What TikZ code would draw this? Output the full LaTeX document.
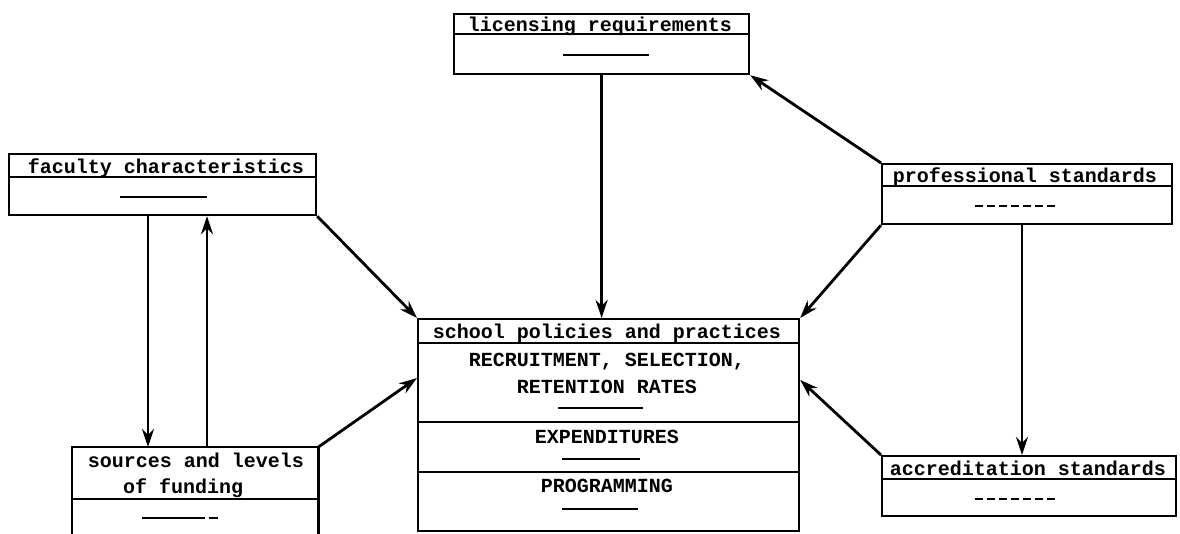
\documentclass[tikz,border=0pt]{standalone}
\usepackage{fontspec}
\setmonofont{Liberation Mono}
\usetikzlibrary{arrows.meta,calc}
\begin{document}
\begin{tikzpicture}[x=1pt,y=-1pt,
  boxst/.style={draw,line width=2.2pt,inner sep=0pt,anchor=north west},
  openbox/.style={inner sep=0pt,anchor=north west},
  lbl/.style={inner sep=0pt,anchor=base,font=\ttfamily\bfseries\fontsize{20}{22}\selectfont},
  rule/.style={line width=2pt},
  dashrule/.style={line width=2.4pt,dash pattern=on 8pt off 4pt},
  arr/.style={line width=2.8pt,-{Stealth[length=18pt,width=12pt]}}]
\useasboundingbox (0,0) rectangle (1180,533);

% licensing requirements
\node[boxst,minimum width=295pt,minimum height=60pt] (lic) at (453,13) {};
\draw[rule] (lic.west |- 0,34) -- (lic.east |- 0,34);
\node[lbl] (lict) at (600,31) {licensing requirements};
\draw[rule] (563,55) -- (649,55);

% faculty characteristics
\node[boxst,minimum width=307pt,minimum height=61pt] (fac) at (8,153) {};
\draw[rule] (fac.west |- 0,177) -- (fac.east |- 0,177);
\node[lbl] (fact) at (166,173) {faculty characteristics};
\draw[rule] (120,197) -- (207,197);

% professional standards
\node[boxst,minimum width=290pt,minimum height=60pt] (prof) at (881,163) {};
\draw[rule] (prof.west |- 0,186) -- (prof.east |- 0,186);
\node[lbl] (proft) at (1025,182) {professional standards};
\draw[dashrule] (975,206) -- (1055,206);

% accreditation standards
\node[boxst,minimum width=294pt,minimum height=60pt] (accr) at (881,455) {};
\draw[rule] (accr.west |- 0,479) -- (accr.east |- 0,479);
\node[lbl] (accrt) at (1028,475) {accreditation standards};
\draw[dashrule] (975,499) -- (1055,499);

% school policies and practices
\node[boxst,minimum width=381pt,minimum height=212pt] (sch) at (417,318) {};
\draw[rule] (sch.west |- 0,343) -- (sch.east |- 0,343);
\node[lbl] (scht) at (607,338) {school policies and practices};
\node[lbl] (schr1) at (607,366) {RECRUITMENT, SELECTION,};
\node[lbl] (schr2) at (607,393) {RETENTION RATES};
\draw[rule] (558,408) -- (643,408);
\draw[rule] (sch.west |- 0,422) -- (sch.east |- 0,422);
\node[lbl] (sche) at (607,443) {EXPENDITURES};
\draw[rule] (562,459) -- (640,459);
\draw[rule] (sch.west |- 0,472) -- (sch.east |- 0,472);
\node[lbl] (schp) at (607,492) {PROGRAMMING};
\draw[rule] (562,509) -- (638,509);

% sources and levels of funding (open at bottom)
\node[openbox,minimum width=246pt,minimum height=100pt] (src) at (72,447) {};
\draw[line width=2.2pt] (src.south west) -- (src.north west) -- (src.north east) -- (src.south east);
\draw[rule] (src.west |- 0,499) -- (src.east |- 0,499);
\node[lbl] (srct1) at (196,467) {sources and levels};
\node[lbl,anchor=base west] (srct2) at (123,493) {of funding};
\draw[rule] (142,518) -- (205,518);
\draw[rule] (209,518) -- (218,518);

% connectors
\draw[arr] (lic.south) -- (lic.south |- sch.north);
\draw[arr] (prof.north west) -- (lic.south east);
\draw[arr] (prof.south west) -- (sch.north east);
\draw[arr] (prof.south -| 1022,0) -- (accr.north -| 1022,0);
\draw[arr] (accr.north west) -- ($(sch.north east)+(0,62)$);
\draw[arr] (fac.south east) -- (sch.north west);
\draw[arr] ($(fac.south west)+(140,0)$) -- ($(src.north west)+(76,0)$);
\draw[arr] ($(src.north west)+(135,0)$) -- ($(fac.south west)+(199,0)$);
\draw[arr] (src.north east) -- ($(sch.north west)+(0,60)$);
\end{tikzpicture}
\end{document}
